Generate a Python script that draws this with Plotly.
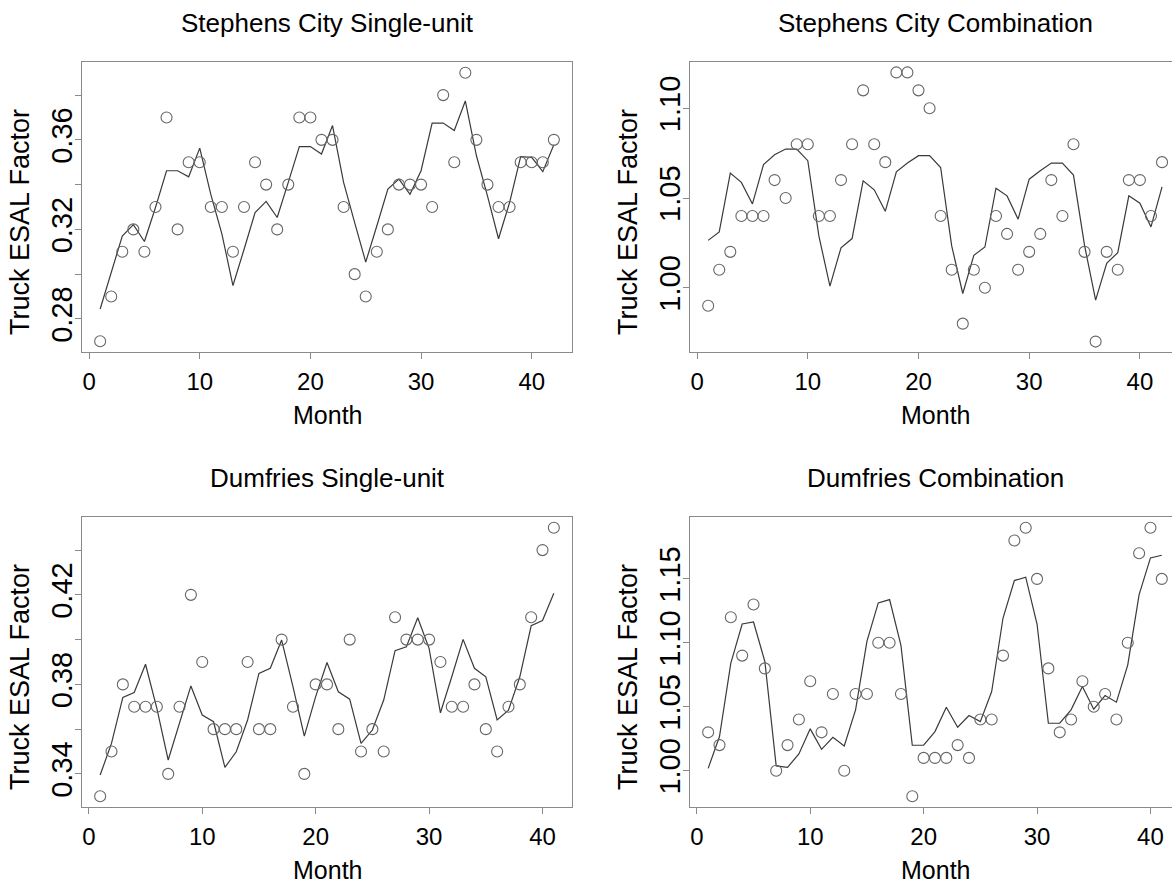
import plotly.graph_objects as go

# ---------------- data ----------------
months_42 = list(range(1, 43))
months_41 = list(range(1, 42))

sc_single_obs = [0.27, 0.29, 0.31, 0.32, 0.31, 0.33, 0.37, 0.32, 0.35, 0.35,
                 0.33, 0.33, 0.31, 0.33, 0.35, 0.34, 0.32, 0.34, 0.37, 0.37,
                 0.36, 0.36, 0.33, 0.30, 0.29, 0.31, 0.32, 0.34, 0.34, 0.34,
                 0.33, 0.38, 0.35, 0.39, 0.36, 0.34, 0.33, 0.33, 0.35, 0.35,
                 0.35, 0.36]
sc_single_fit = [0.2844, 0.3006, 0.3170, 0.3221, 0.3146, 0.3298, 0.3462, 0.3462, 0.3435, 0.3563,
                 0.3356, 0.3180, 0.2949, 0.3110, 0.3275, 0.3325, 0.3253, 0.3410, 0.3570, 0.3570,
                 0.3537, 0.3664, 0.3410, 0.3230, 0.3054, 0.3215, 0.3380, 0.3425, 0.3357, 0.3462,
                 0.3675, 0.3675, 0.3642, 0.3774, 0.3530, 0.3350, 0.3158, 0.3320, 0.3525, 0.3522,
                 0.3458, 0.3578]

sc_comb_obs = [0.99, 1.01, 1.02, 1.04, 1.04, 1.04, 1.06, 1.05, 1.08, 1.08,
               1.04, 1.04, 1.06, 1.08, 1.11, 1.08, 1.07, 1.12, 1.12, 1.11,
               1.10, 1.04, 1.01, 0.98, 1.01, 1.00, 1.04, 1.03, 1.01, 1.02,
               1.03, 1.06, 1.04, 1.08, 1.02, 0.97, 1.02, 1.01, 1.06, 1.06,
               1.04, 1.07]
sc_comb_fit = [1.0264, 1.0311, 1.0639, 1.0587, 1.0467, 1.0687, 1.0741, 1.0773, 1.0773, 1.0708,
               1.0289, 1.0009, 1.0223, 1.0274, 1.0596, 1.0546, 1.0426, 1.0646, 1.0695, 1.0736,
               1.0736, 1.0670, 1.0233, 0.9968, 1.0181, 1.0227, 1.0555, 1.0512, 1.0382, 1.0605,
               1.0652, 1.0695, 1.0695, 1.0628, 1.0236, 0.9931, 1.0136, 1.0196, 1.0512, 1.0471,
               1.0339, 1.0562]

du_single_obs = [0.33, 0.35, 0.38, 0.37, 0.37, 0.37, 0.34, 0.37, 0.42, 0.39,
                 0.36, 0.36, 0.36, 0.39, 0.36, 0.36, 0.40, 0.37, 0.34, 0.38,
                 0.38, 0.36, 0.40, 0.35, 0.36, 0.35, 0.41, 0.40, 0.40, 0.40,
                 0.39, 0.37, 0.37, 0.38, 0.36, 0.35, 0.37, 0.38, 0.41, 0.44,
                 0.45]
du_single_fit = [0.3395, 0.3536, 0.3742, 0.3764, 0.3890, 0.3693, 0.3462, 0.3626, 0.3793, 0.3663,
                 0.3633, 0.3429, 0.3499, 0.3641, 0.3849, 0.3872, 0.3998, 0.3790, 0.3569, 0.3745,
                 0.3898, 0.3767, 0.3734, 0.3536, 0.3596, 0.3730, 0.3951, 0.3968, 0.4098, 0.3961,
                 0.3673, 0.3834, 0.4001, 0.3872, 0.3834, 0.3641, 0.3685, 0.3834, 0.4062, 0.4085,
                 0.4207]

du_comb_obs = [1.03, 1.02, 1.12, 1.09, 1.13, 1.08, 1.00, 1.02, 1.04, 1.07,
               1.03, 1.06, 1.00, 1.06, 1.06, 1.10, 1.10, 1.06, 0.98, 1.01,
               1.01, 1.01, 1.02, 1.01, 1.04, 1.04, 1.09, 1.18, 1.19, 1.15,
               1.08, 1.03, 1.04, 1.07, 1.05, 1.06, 1.04, 1.10, 1.17, 1.19,
               1.15]
du_comb_fit = [1.0018, 1.0267, 1.0841, 1.1147, 1.1163, 1.0854, 1.0037, 1.0026, 1.0131, 1.0327,
               1.0167, 1.0261, 1.0193, 1.0476, 1.1011, 1.1312, 1.1338, 1.0980, 1.0199, 1.0199,
               1.0306, 1.0496, 1.0340, 1.0431, 1.0384, 1.0619, 1.1194, 1.1487, 1.1513, 1.1147,
               1.0371, 1.0371, 1.0476, 1.0658, 1.0481, 1.0588, 1.0536, 1.0828, 1.1377, 1.1664,
               1.1685]

titles = ["Stephens City Single-unit", "Stephens City Combination",
          "Dumfries Single-unit", "Dumfries Combination"]
x_title = "Month"
y_title = "Truck ESAL Factor"
x_tickvals = [0, 10, 20, 30, 40]
y_ticks_p1 = [0.28, 0.30, 0.32, 0.34, 0.36, 0.38]
y_labels_p1 = ["0.28", "", "0.32", "", "0.36", ""]
y_ticks_p2 = [1.00, 1.05, 1.10]
y_labels_p2 = ["1.00", "1.05", "1.10"]
y_ticks_p3 = [0.34, 0.36, 0.38, 0.40, 0.42, 0.44]
y_labels_p3 = ["0.34", "", "0.38", "", "0.42", ""]
y_ticks_p4 = [1.00, 1.05, 1.10, 1.15]
y_labels_p4 = ["1.00", "1.05", "1.10", "1.15"]

# ---------------- layout ----------------
W, H = 1172, 886
FONT = "Liberation Sans, Arial, Helvetica, sans-serif"
BOX = "#8a8a8a"
PT = "#666666"
LN = "#3a3a3a"

panels = [
    dict(x=months_42, obs=sc_single_obs, fit=sc_single_fit,
         xdom=(82, 572), ydom=(62, 352), xr=[-0.64, 43.64], yr=[0.2652, 0.3948],
         yt=y_ticks_p1, yl=y_labels_p1, cut=False, center=327),
    dict(x=months_42, obs=sc_comb_obs, fit=sc_comb_fit,
         xdom=(690, 1172), ydom=(62, 352), xr=[-0.64, 42.9], yr=[0.9642, 1.1258],
         yt=y_ticks_p2, yl=y_labels_p2, cut=True, center=935),
    dict(x=months_41, obs=du_single_obs, fit=du_single_fit,
         xdom=(82, 572), ydom=(517, 807), xr=[-0.6, 42.6], yr=[0.3252, 0.4548],
         yt=y_ticks_p3, yl=y_labels_p3, cut=False, center=327),
    dict(x=months_41, obs=du_comb_obs, fit=du_comb_fit,
         xdom=(690, 1172), ydom=(517, 807), xr=[-0.6, 41.9], yr=[0.9716, 1.1984],
         yt=y_ticks_p4, yl=y_labels_p4, cut=True, center=935),
]

fig = go.Figure()
annotations = []
layout_axes = {}

for i, p in enumerate(panels):
    n = "" if i == 0 else str(i + 1)
    xa, ya = "x" + n, "y" + n
    fig.add_trace(go.Scatter(x=p["x"], y=p["fit"], mode="lines",
                             line=dict(color=LN, width=1.2),
                             xaxis=xa, yaxis=ya, showlegend=False, hoverinfo="skip"))
    fig.add_trace(go.Scatter(x=p["x"], y=p["obs"], mode="markers",
                             marker=dict(symbol="circle-open", size=11, color=PT,
                                         line=dict(width=1.1, color=PT)),
                             xaxis=xa, yaxis=ya, showlegend=False))
    x0, x1 = p["xdom"]
    y0, y1 = p["ydom"]
    layout_axes["xaxis" + n] = dict(
        domain=[x0 / W, x1 / W], range=p["xr"], anchor=ya,
        tickvals=x_tickvals, ticks="outside", ticklen=6, tickwidth=1, tickcolor=BOX,
        showline=True, linecolor=BOX, linewidth=1.3, mirror=True,
        showgrid=False, zeroline=False, automargin=False,
        tickfont=dict(family=FONT, size=24, color="black"), ticklabelstandoff=2)
    layout_axes["yaxis" + n] = dict(
        domain=[1 - y1 / H, 1 - y0 / H], range=p["yr"], anchor=xa,
        tickvals=p["yt"], ticktext=p["yl"], tickangle=-90,
        ticks="outside", ticklen=6, tickwidth=1, tickcolor=BOX,
        showline=True, linecolor=BOX, linewidth=1.3, mirror=not p["cut"],
        showgrid=False, zeroline=False, automargin=False,
        tickfont=dict(family=FONT, size=29, color="black"), ticklabelstandoff=-9)
    # titles
    annotations.append(dict(text=titles[i], x=p["center"] / W, y=1 - (y0 - 39) / H,
                            xref="paper", yref="paper", xanchor="center", yanchor="middle",
                            showarrow=False, font=dict(family=FONT, size=26, color="black")))
    annotations.append(dict(text=x_title, x=p["center"] / W, y=1 - (y1 + 63) / H,
                            xref="paper", yref="paper", xanchor="center", yanchor="middle",
                            showarrow=False, font=dict(family=FONT, size=25, color="black")))
    annotations.append(dict(text=y_title, x=(x0 - 62) / W, y=1 - (y0 + 160) / H,
                            xref="paper", yref="paper", xanchor="center", yanchor="middle",
                            textangle=-90, showarrow=False,
                            font=dict(family=FONT, size=27, color="black")))

fig.update_layout(
    width=W, height=H, margin=dict(l=0, r=0, t=0, b=0),
    paper_bgcolor="white", plot_bgcolor="white", template="none",
    annotations=annotations, **layout_axes)

fig.write_html("out.html")
